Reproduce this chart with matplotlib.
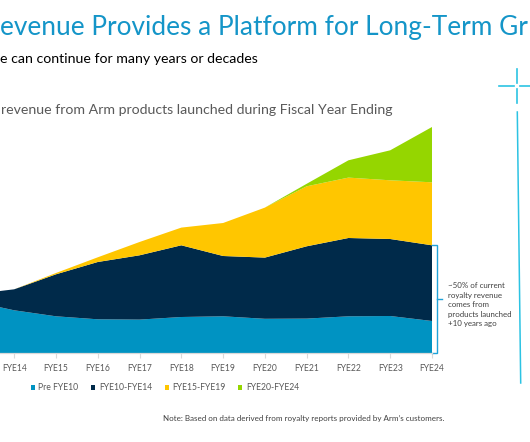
import matplotlib
matplotlib.use("Agg")
import matplotlib.pyplot as plt
from matplotlib.patches import Patch
from matplotlib.lines import Line2D

# ---------------- data (relative royalty revenue) -------------
years = ["FYE13", "FYE14", "FYE15", "FYE16", "FYE17", "FYE18", "FYE19",
         "FYE20", "FYE21", "FYE22", "FYE23", "FYE24"]
pre_fye10 = [52, 43, 37, 34, 33.7, 36.3, 37, 34.5, 34.7, 37, 37.3, 32.3]
fye10_14 = [7, 21, 42, 57.3, 64.3, 71.7, 60.3, 61.2, 72.3, 78.3, 77, 75.7]
fye15_19 = [0, 0, 1.3, 4.7, 13.3, 17.7, 33, 50, 60, 60.4, 58.7, 63]
fye20_24 = [0, 0, 0, 0, 0, 0, 0, 0, 2.5, 17.3, 30, 55.3]
series_names = ["Pre FYE10", "FYE10-FYE14", "FYE15-FYE19", "FYE20-FYE24"]
series_colors = ["#0093C2", "#002A4A", "#FFC600", "#95D600"]

title_text = "evenue Provides a Platform for Long-Term Gr"
subtitle_text = "e can continue for many years or decades"
chart_title = "revenue from Arm products launched during Fiscal Year Ending"
note_text = "Note: Based on data derived from royalty reports provided by Arm\u2019s customers."
annot_lines = ["~50% of current", "royalty revenue", "comes from",
               "products launched", "+10 years ago"]

# ---------------- figure ----------------
W, H = 530, 442
fig = plt.figure(figsize=(W / 100, H / 100), dpi=100)
renderer = fig.canvas.get_renderer()
FONT = ["Lato", "DejaVu Sans"]


def fx(x):
    return x / W


def fy(y):
    return 1 - y / H


def fit_size(s, target, weight="normal", base=10):
    t = fig.text(0, 0, s, fontsize=base, family=FONT, fontweight=weight)
    w = t.get_window_extent(renderer).width
    t.remove()
    return base * target / w


# titles
ts = fit_size(title_text, 526)
fig.text(fx(0), fy(35), title_text, fontsize=ts, family=FONT,
         color="#1495C8", va="baseline", ha="left")
ss = fit_size(subtitle_text, 257)
fig.text(fx(0.5), fy(63), subtitle_text, fontsize=ss, family=FONT,
         color="#000000", va="baseline", ha="left")
cs = fit_size(chart_title, 391)
fig.text(fx(1), fy(114.3), chart_title, fontsize=cs, family=FONT,
         color="#595959", va="baseline", ha="left")

# ---------------- axes ----------------
px_per = (432 - 14.2) / 10.0
x0_px = 14.2 - px_per
base_px = 353.3
YMAX = 240
ax = fig.add_axes([fx(x0_px), (H - base_px) / H, 11 * px_per / W, YMAX / H])
ax.set_facecolor("none")
xs = list(range(len(years)))
ax.stackplot(xs, pre_fye10, fye10_14, fye15_19, fye20_24,
             colors=series_colors, linewidth=0, labels=series_names)
ax.set_xlim(0, len(years) - 1)
ax.set_ylim(0, YMAX)
for s in ["top", "right", "left"]:
    ax.spines[s].set_visible(False)
ax.spines["bottom"].set_color("#D9D9D9")
ax.spines["bottom"].set_linewidth(0.9)
ax.set_yticks([])
tk = fit_size("FYE14", 24.8)
ax.set_xticks(xs, labels=years)
ax.tick_params(axis="x", direction="out", length=3.5, width=0.8, color="#D9D9D9",
               labelcolor="#595959", labelsize=tk, pad=4.5)
for lab in ax.get_xticklabels():
    lab.set_family(FONT)
# the first category lies outside the cropped picture
ax.get_xticklabels()[0].set_visible(False)

# bracket next to the last column
top_val = pre_fye10[-1] + fye10_14[-1]
xb = 11 + 4.7 / px_per
xe = 11 + 0.3 / px_per
xm = 11 + 9.5 / px_per
bc = "#1FA3D9"
ax.plot([xe, xb, xb, xe], [top_val, top_val, 0, 0], color=bc, lw=1.0,
        clip_on=False, solid_joinstyle="miter")
ax.plot([xb, xm], [top_val / 2, top_val / 2], color=bc, lw=1.0, clip_on=False)

asz = fit_size("products launched", 64.3)
for i, line in enumerate(annot_lines):
    fig.text(fx(448.3), fy(288.3 + 9.45 * i), line, fontsize=asz, family=FONT,
             color="#404040", va="baseline", ha="left")

# legend
handles = [Patch(facecolor=c, edgecolor="none") for c in series_colors]
lsz = fit_size("FYE10-FYE14", 53.3)
leg = fig.legend(handles, series_names, ncol=4, loc="center left",
                 bbox_to_anchor=(fx(30.7), fy(387.8)), frameon=False,
                 fontsize=lsz, handlelength=0.48, handleheight=0.48,
                 handletextpad=0.42, columnspacing=1.45, borderpad=0,
                 borderaxespad=0, prop={"family": FONT, "size": lsz})
for t in leg.get_texts():
    t.set_color("#595959")

# note
nsz = fit_size(note_text, 280)
fig.text(fx(163), fy(421), note_text, fontsize=nsz, family=FONT,
         color="#404040", va="baseline", ha="left")

# right-hand decorative line and cross
cc = "#2CC3E3"
fig.add_artist(Line2D([fx(517.3), fx(520.7)], [fy(112), fy(383)], color=cc, lw=1.1))
fig.add_artist(Line2D([fx(499), fx(514)], [fy(86), fy(86)], color=cc, lw=1.2))
fig.add_artist(Line2D([fx(520), fx(531)], [fy(86), fy(86)], color=cc, lw=1.2))
fig.add_artist(Line2D([fx(517.3), fx(517.3)], [fy(69), fy(83.3)], color=cc, lw=1.2))
fig.add_artist(Line2D([fx(517.3), fx(517.3)], [fy(89.3), fy(103.3)], color=cc, lw=1.2))

fig.savefig("out.png", dpi=100)
